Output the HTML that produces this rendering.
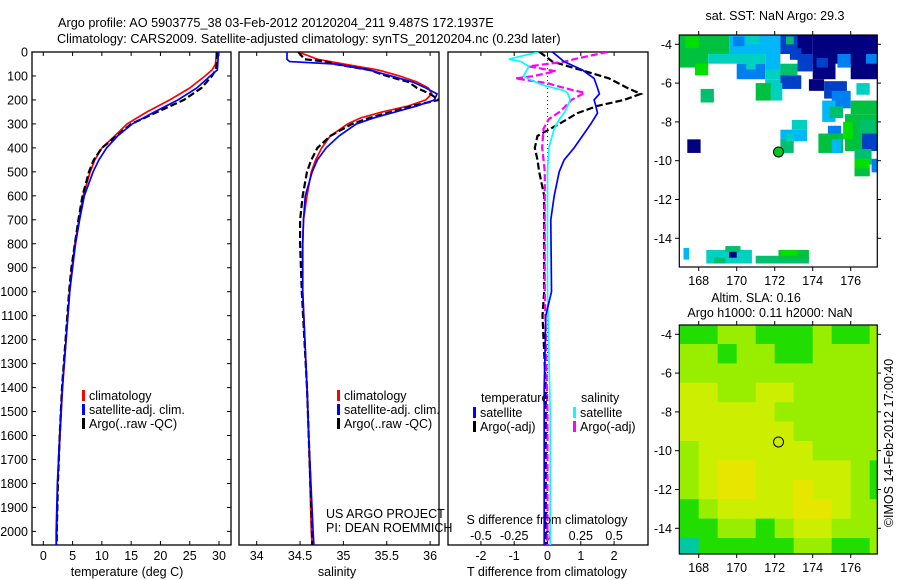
<!DOCTYPE html>
<html><head><meta charset="utf-8"><style>
html,body{margin:0;padding:0;background:#fff}
svg{display:block;font-family:"Liberation Sans",sans-serif}
text{fill:#000}
</style></head><body>
<svg id="fig" width="900" height="580" viewBox="0 0 900 580">
<defs>
<clipPath id="c1"><rect x="32" y="52" width="199" height="493"/></clipPath>
<clipPath id="c2"><rect x="239" y="52" width="200" height="493"/></clipPath>
<clipPath id="c3"><rect x="448" y="52" width="200" height="493"/></clipPath>
<clipPath id="cm1"><rect x="679" y="35" width="198" height="232"/></clipPath>
<clipPath id="cm2"><rect x="679" y="325" width="198" height="229"/></clipPath>
</defs>
<text x="58" y="27" font-size="12.7">Argo profile: AO 5903775_38 03-Feb-2012 20120204_211 9.487S 172.1937E</text>
<text x="57" y="43" font-size="12.7">Climatology: CARS2009. Satellite-adjusted climatology: synTS_20120204.nc (0.23d later)</text>
<g id="g"></g>
</svg>
<script>
// ---- profile data ----
const depthsT = [0,50,75,100,150,200,250,300,350,400,450,500,600,700,800,900,1000,1200,1400,1600,1800,2000,2060];
const tempClim = [29.6,29.4,28.8,27.6,25,21.6,17.7,14.3,12.2,10,8.8,8,6.8,6.1,5.4,4.9,4.5,3.9,3.3,2.85,2.45,2.3,2.2];
const tempSat  = [29.9,29.8,29.7,28.5,26.2,23,19,15.2,12.7,10.8,9.5,8.5,7.0,6.2,5.5,5.0,4.5,3.9,3.25,2.8,2.4,2.2,2.2];
const tempArgo = [29.6,29.6,29.4,28.8,27,24,19.5,15,12.5,10,8.6,7.8,6.7,6.0,5.4,4.8,4.4,3.8,3.2,2.8,2.5,2.3,2.3];
const depthsS = [0,30,40,50,75,100,125,150,175,200,225,250,275,300,350,400,450,500,600,700,800,1000,1400,1600,2000,2060];
const salClim = [34.48,34.7,34.85,35.0,35.4,35.65,35.85,35.98,36.02,35.95,35.75,35.45,35.2,35.05,34.85,34.75,34.68,34.63,34.58,34.54,34.53,34.53,34.58,34.6,34.63,34.64];
const salSat  = [34.35,34.35,34.38,34.9,35.3,35.55,35.8,35.95,36.08,36.05,35.85,35.6,35.35,35.15,34.95,34.8,34.7,34.64,34.56,34.54,34.53,34.53,34.58,34.6,34.65,34.66];
const salArgo = [34.48,34.55,34.8,34.9,35.3,35.5,35.75,35.85,36.0,36.1,35.8,35.55,35.3,35.1,34.85,34.7,34.63,34.58,34.53,34.5,34.5,34.52,34.58,34.6,34.64,34.64];
const depthsD = [0,40,75,110,150,175,200,225,255,300,350,400,450,500,600,700,1000,1100,1400,2000,2060];
const dT_sat  = [0.15,0.5,1.05,1.4,1.5,1.56,1.4,1.45,1.5,1.3,1.05,0.8,0.5,0.35,0.2,0.1,0.12,-0.05,-0.1,-0.1,-0.1];
const dT_argo = [-0.24,0.15,1.0,1.85,2.4,2.8,2.3,1.5,0.9,0.35,-0.3,-0.38,-0.3,-0.25,-0.1,-0.1,-0.1,-0.15,-0.05,-0.05,-0.05];
const depthsDS = [0,30,40,60,80,100,110,130,140,160,170,200,240,250,280,320,400,500,1000,1500,2000,2060];
const dS_sat  = [-0.07,-0.29,-0.2,-0.14,-0.16,-0.18,-0.15,-0.07,-0.02,0.12,0.15,0.17,0.14,0.13,0.09,0.05,0.01,0.0,0.0,0.02,0.02,0.02];
const dS_argo = [0.45,0.2,0.13,-0.14,0.06,-0.1,-0.24,0.0,0.06,0.2,0.28,0.18,0.11,0.09,0.01,-0.03,-0.04,-0.02,-0.02,0.0,0.0,0.0];
const depthTicks = [0,100,200,300,400,500,600,700,800,900,1000,1100,1200,1300,1400,1500,1600,1700,1800,1900,2000];
const tTicks = [0,5,10,15,20,25,30];
const sTicks = [34,34.5,35,35.5,36];
const dTTicks = [-2,-1,0,1,2];
const dSTicks = [-0.5,-0.25,0,0.25,0.5];
const dSTickLabels = ["-0.5","-0.25","0","0.25","0.5"];
// ---- map data ----
const mapLonTicks = [168,170,172,174,176];
const mapLatTicks = [-4,-6,-8,-10,-12,-14];
const sstColors = ["#000080","#0040c8","#0080f0","#00b8f8","#00d0c0","#00c070","#00c040","#00e000"];
// [lon0, lat0(top), lon1, lat1(bottom), colorIndex]
const sstCells = [
 [167,-3.5,169.6,-4.5,6],[167,-4.5,168.5,-5.2,6],[167.8,-5.0,168.5,-5.6,7],[167.3,-3.6,168.0,-4.2,7],
 [169.6,-3.5,171.2,-4.5,3],[170.5,-3.5,171.2,-4.0,4],[169.8,-3.6,170.4,-4.1,2],[171.2,-3.5,172.3,-4.5,3],
 [168.5,-4.5,171.5,-5.0,4],[170,-5.0,171.5,-5.8,2],[170.5,-5.0,171.0,-5.3,4],[171.5,-4.5,172.3,-5.3,3],
 [172.3,-3.5,173.2,-4.5,1],[172.6,-3.6,173.0,-4.0,5],[173.2,-3.5,174.0,-4.5,0],[172.8,-4.2,173.4,-4.8,1],
 [174,-3.5,177.4,-5.0,0],[174,-4.5,175.2,-5.8,0],[174.2,-4.7,174.8,-5.2,1],[176,-4.7,177.4,-5.8,0],
 [175.3,-4.5,176,-5.2,2],[176.8,-4.5,177.4,-5.0,2],[177.1,-3.5,177.4,-4.5,0],[175.2,-3.5,176.0,-4.2,0],
 [173.2,-4.5,174.0,-5.4,1],[171.5,-5.3,172.6,-5.8,4],[172.3,-5.0,173.2,-5.6,5],
 [172.3,-5.6,173.4,-6.3,1],[173.8,-5.8,174.6,-6.4,0],[174.6,-5.9,175.8,-6.8,1],[171.5,-5.8,172.3,-6.3,4],
 [171,-6.0,171.8,-6.9,6],[171.8,-6.0,172.4,-6.9,4],[168.1,-6.3,168.8,-7.0,5],[176.3,-6.0,177.0,-6.6,4],
 [175.0,-6.4,176.0,-7.3,2],[174.5,-6.9,175.2,-8.0,3],[174.9,-7.2,175.6,-7.8,5],[176.0,-6.9,177.4,-7.6,6],
 [175.7,-7.6,177.4,-9.5,6],[176.5,-7.9,177.3,-8.6,5],[175.6,-8.0,176.1,-8.9,7],[174.8,-8.2,175.5,-9.2,2],
 [174.3,-8.6,175.6,-9.6,6],[175.0,-8.9,175.5,-9.6,3],[176.6,-8.6,177.4,-9.5,1],[176.2,-9.4,177.1,-10.2,5],
 [176.2,-9.9,177.0,-10.8,7],[176.2,-10.4,177.0,-10.8,6],[177.1,-9.9,177.4,-10.6,2],
 [172.9,-7.9,173.7,-8.4,4],[172.3,-8.4,173.7,-9.0,3],[172.3,-8.9,173.0,-9.6,5],[172.6,-8.6,173.0,-9.0,4],
 [167.4,-8.9,168.1,-9.6,0],
 [168.4,-14.6,170.8,-15.3,4],[169.4,-14.4,170.2,-14.7,5],[169.6,-14.7,170.0,-15.0,0],[168.8,-15.0,169.4,-15.3,5],
 [171.0,-14.9,173.8,-15.3,5],[172.2,-14.6,173.8,-15.1,6],[172.3,-14.6,173.2,-14.9,7],[167.2,-14.5,167.5,-15.1,3]
];
const slaColors = ["#00c8a0","#22dd00","#99ee00","#ccee00","#e6e600"];
const slaLon0 = 167, slaLat0 = -3.5;
const slaGrid = [
 [1,1,2,2,1,1,1,2,1,1,2],
 [2,2,1,2,2,1,1,2,2,2,2],
 [2,2,2,2,2,2,2,2,2,2,2],
 [3,3,2,2,3,3,2,2,2,2,2],
 [3,3,3,3,3,2,2,2,2,2,2],
 [3,3,3,3,3,3,2,2,2,2,2],
 [2,3,3,3,3,3,3,2,2,2,2],
 [2,3,4,4,3,3,3,3,3,2,1],
 [2,3,4,4,3,3,4,3,3,2,1],
 [1,2,3,3,3,3,4,4,3,2,2],
 [1,1,2,2,1,2,3,3,2,2,2],
 [0,1,1,1,1,1,2,2,1,1,2]
];

const NS="http://www.w3.org/2000/svg";
const G=document.getElementById('g');
function el(tag,attrs,parent,txt){const e=document.createElementNS(NS,tag);for(const k in attrs)e.setAttribute(k,attrs[k]);if(txt!==undefined)e.textContent=txt;(parent||G).appendChild(e);return e;}
const yD=d=>52+d*0.2397;
const xT=t=>43.3+t*5.857;
const xS=s=>256.7+(s-34)*86.7;
const xDT=t=>547.5+t*33.3;
const xDS=s=>547.5+s*133.2;

function frame(x0,x1,name){
  const r=el('rect',{x:x0,y:52,width:x1-x0,height:493,fill:'none',stroke:'#000','stroke-width':1.3});
  
  
}
function line(xs,ds,xf,color,dash,w,clip,name){
  const pts=xs.map((v,i)=>xf(v).toFixed(1)+','+yD(ds[i]).toFixed(1)).join(' ');
  const p=el('polyline',{points:pts,fill:'none',stroke:color,'stroke-width':w,'clip-path':'url(#'+clip+')'});
  if(dash)p.setAttribute('stroke-dasharray',dash);
  
  
}
function xAxis(ticks,labels,xf,ytxt,fs,name,top){
  ticks.forEach((t,i)=>{
    el('line',{x1:xf(t),x2:xf(t),y1:545,y2:541,stroke:'#000'});
    if(top) el('line',{x1:xf(t),x2:xf(t),y1:52,y2:56,stroke:'#000'});
    const tx=el('text',{x:xf(t),y:ytxt,'font-size':fs,'text-anchor':'middle'},G,labels[i]);
    
    
  });
}
frame(32,231,'temperature-panel');frame(239,439,'salinity-panel');frame(448,648,'difference-panel');
depthTicks.forEach(d=>{
  el('line',{x1:32,x2:36,y1:yD(d),y2:yD(d),stroke:'#000'});
  el('line',{x1:227,x2:231,y1:yD(d),y2:yD(d),stroke:'#000'});
  const t=el('text',{x:28,y:yD(d)+4.5,'font-size':12.5,'text-anchor':'end'},G,String(d));
  
  
});
xAxis(tTicks,tTicks.map(String),xT,560,12.5,'temperature-axis',true);
xAxis(sTicks,sTicks.map(String),xS,560,12.5,'salinity-axis',true);
xAxis(dTTicks,dTTicks.map(String),xDT,560,12.5,'t-difference-axis',true);
dSTicks.forEach((t,i)=>{
  const tx=el('text',{x:xDS(t),y:540,'font-size':12.5,'text-anchor':'middle'},G,dSTickLabels[i]);
  
  
});
const z=el('line',{x1:xDT(0),x2:xDT(0),y1:52,y2:545,stroke:'#000','stroke-dasharray':'1,3','stroke-width':0.8});


line(tempClim,depthsT,xT,'#f00',null,1.7,'c1','temp-climatology-line');
line(tempArgo,depthsT,xT,'#000','7,3',2.2,'c1','temp-argo-line');
line(tempSat,depthsT,xT,'#00f',null,1.7,'c1','temp-satellite-line');
line(salClim,depthsS,xS,'#f00',null,1.7,'c2','sal-climatology-line');
line(salArgo,depthsS,xS,'#000','7,3',2.2,'c2','sal-argo-line');
line(salSat,depthsS,xS,'#00f',null,1.7,'c2','sal-satellite-line');
line(dT_argo,depthsD,xDT,'#000','7,3',2.2,'c3','tdiff-argo-line');
line(dS_argo,depthsDS,xDS,'#f0f','7,3',2.2,'c3','sdiff-argo-line');
line(dS_sat,depthsDS,xDS,'#0ff',null,1.7,'c3','sdiff-satellite-line');
line(dT_sat,depthsD,xDT,'#00f',null,1.7,'c3','tdiff-satellite-line');
function leg(x,y,color,label,name){
  const g=el('g',{});
  
  
  el('rect',{x:x,y:y-9,width:3,height:11,fill:color},g);
  el('text',{x:x+7,y:y+1,'font-size':12.5},g,label);
}
leg(82,399,'#f00','climatology','legend-climatology');
leg(82,413,'#00f','satellite-adj. clim.','legend-satellite-adj');
leg(82,427,'#000','Argo(..raw -QC)','legend-argo');
leg(337,399,'#f00','climatology','legend2-climatology');
leg(337,413,'#00f','satellite-adj. clim.','legend2-satellite-adj');
leg(337,427,'#000','Argo(..raw -QC)','legend2-argo');
el('text',{x:481,y:402,'font-size':12.5},G,'temperature');
el('text',{x:581,y:402,'font-size':12.5},G,'salinity');
leg(473,416,'#00f','satellite','legend-tdiff-satellite');
leg(473,430,'#000','Argo(-adj)','legend-tdiff-argo');
leg(573,416,'#0ff','satellite','legend-sdiff-satellite');
leg(573,430,'#f0f','Argo(-adj)','legend-sdiff-argo');
[['temperature (deg C)',127,576,'x-axis-title-temperature'],['salinity',337,576,'x-axis-title-salinity'],['T difference from climatology',547,576,'x-axis-title-tdiff'],['S difference from climatology',547,524,'x-axis-title-sdiff']].forEach(a=>{
  const t=el('text',{x:a[1],y:a[2],'font-size':12.5,'text-anchor':'middle'},G,a[0]);
  
  
});
el('text',{x:326,y:518,'font-size':12.5},G,'US ARGO PROJECT');
el('text',{x:326,y:532,'font-size':12.5},G,'PI: DEAN ROEMMICH');

function map(latTopPx,clip,name){
  const xL=lon=>698.7+(lon-168)*19;
  const yL=lat=>latTopPx+(-4-lat)*19.4;
  const g=el('g',{'clip-path':'url(#'+clip+')'});
  
  
  return {xL,yL,g};
}
const m1=map(44.3,'cm1','sst-map');
sstCells.forEach(c=>{
  const r=el('rect',{x:m1.xL(c[0]),y:m1.yL(c[1]),width:m1.xL(c[2])-m1.xL(c[0]),height:m1.yL(c[3])-m1.yL(c[1]),fill:sstColors[c[4]]},m1.g);
  
  
});
const m2=map(334.3,'cm2','sla-map');
slaGrid.forEach((row,i)=>row.forEach((v,j)=>{
  const lon=slaLon0+j, lat=slaLat0-i;
  const r=el('rect',{x:m2.xL(lon),y:m2.yL(lat),width:19.5,height:19.9,fill:slaColors[v]},m2.g);
  
  
}));
[[m1,35,267,'sst-map'],[m2,325,554,'sla-map']].forEach(a=>{
  const m=a[0],y0=a[1],y1=a[2];
  const f=el('rect',{x:679.3,y:y0,width:198,height:y1-y0,fill:'none',stroke:'#000','stroke-width':1.2});
  
  
  mapLonTicks.forEach(l=>{
    el('line',{x1:m.xL(l),x2:m.xL(l),y1:y0,y2:y0-4,stroke:'#000'});
    el('line',{x1:m.xL(l),x2:m.xL(l),y1:y1,y2:y1+4,stroke:'#000'});
    const t=el('text',{x:m.xL(l),y:y1+18,'font-size':12.5,'text-anchor':'middle'},G,String(l));
    
    
  });
  mapLatTicks.forEach(l=>{
    el('line',{x1:679.3,x2:675,y1:m.yL(l),y2:m.yL(l),stroke:'#000'});
    el('line',{x1:877.3,x2:881,y1:m.yL(l),y2:m.yL(l),stroke:'#000'});
    const t=el('text',{x:672,y:m.yL(l)+4.5,'font-size':12.5,'text-anchor':'end'},G,String(l));
    
    
  });
  const c=el('circle',{cx:m.xL(172.2),cy:m.yL(-9.55),r:5,fill:a[3]==='sst-map'?'#00c820':'none',stroke:'#000','stroke-width':1});
  
  
});
[['sat. SST: NaN  Argo: 29.3',775,20,'sst-map-title'],['Altim. SLA: 0.16',756,302,'sla-map-title-1'],['Argo h1000: 0.11 h2000: NaN',770,317,'sla-map-title-2']].forEach(a=>{
  const t=el('text',{x:a[1],y:a[2],'font-size':12.5,'text-anchor':'middle'},G,a[0]);
  
  
});
const ts=el('text',{x:0,y:0,'font-size':12.5,'text-anchor':'middle',transform:'translate(893,443) rotate(-90)'},G,'©IMOS 14-Feb-2012 17:00:40');


</script>
</body></html>
